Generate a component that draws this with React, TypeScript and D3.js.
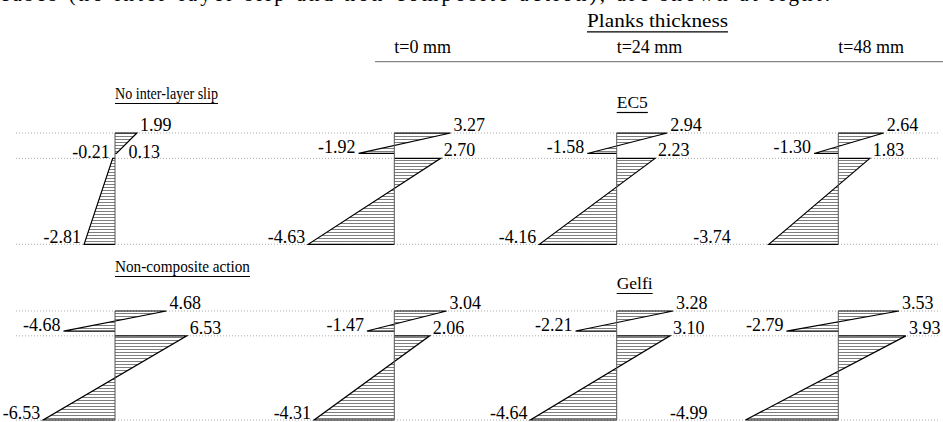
import * as d3 from 'd3';
import React, { useLayoutEffect, useRef, useState } from 'react';

// stress values at: slab top, slab bottom, beam top, beam bottom
const thicknessLabels = ['t=0 mm', 't=24 mm', 't=48 mm'];
const methodLabels = ['EC5', 'Gelfi'];
const refLabels = ['No inter-layer slip', 'Non-composite action'];

const noSlip = [1.99, 0.13, -0.21, -2.81];
const nonComposite = [4.68, -4.68, 6.53, -6.53];

const ec5T0 = [3.27, -1.92, 2.70, -4.63];
const ec5T24 = [2.94, -1.58, 2.23, -4.16];
const ec5T48 = [2.64, -1.30, 1.83, -3.74];

const gelfiT0 = [3.04, -1.47, 2.06, -4.31];
const gelfiT24 = [3.28, -2.21, 3.10, -4.64];
const gelfiT48 = [3.53, -2.79, 3.93, -4.99];

const W = 943, H = 422;
const font = '"Liberation Serif", "DejaVu Serif", serif';
const fmt = (v: number) => v.toFixed(2);

// section depth (drawing units): slab 0-50, beam 62-272
const depths = [0, 50, 62, 272];
const rowTops = [133, 311];
const rowHeights = [111.3, 109];
const colX = [115, 394.3, 616.7, 838.3];

const refScale = d3.scaleLinear().domain([-7, 7]).range([-77, 77]);
const plankScale = d3.scaleLinear().domain([-5, 0, 5]).range([-93, 0, 86]);

const line = d3.line<[number, number]>();

const Diagram = ({ vals, x0, y, sx, shiftBottom }: any) => {
  const x = (v: number) => x0 + sx(v);
  const layers = [[0, 1], [2, 3]];
  return (
    <g>
      {layers.map(([a, b], i) => {
        const pts: [number, number][] = [
          [x0, y(depths[a])],
          [x(vals[a]), y(depths[a])],
          [x(vals[b]), y(depths[b])],
          [x0, y(depths[b])],
        ];
        return (
          <g key={i}>
            <path d={line(pts) + 'Z'} fill="url(#hatch)" stroke="none" />
            <path d={line(pts) ?? ''} fill="none" stroke="#000" strokeWidth={1.2} />
          </g>
        );
      })}
      <line x1={x0} x2={x0} y1={y(0)} y2={y(272)} stroke="#555" strokeWidth={1} />
      {vals.map((v: number, i: number) => {
        const px = x(v);
        const py = y(depths[i]);
        const pos = v >= 0;
        let dx = pos ? 3 : -3;
        let dy = pos ? -2 : 0;
        if (i === 3) dy = -1.5;
        if (i === 3 && shiftBottom) dx -= 35;
        if (i === 1 && pos) { dx = 12; dy = 4.5; }
        return (
          <text key={i} x={px + dx} y={py + dy}
            textAnchor={pos ? 'start' : 'end'} fontSize={18} fontFamily={font}>
            {fmt(v)}
          </text>
        );
      })}
    </g>
  );
};

const Underlined = ({ x, y, text, size = 17, width }: any) => {
  const ref = useRef<SVGTextElement>(null);
  const [w, setW] = useState(0);
  useLayoutEffect(() => {
    if (ref.current) setW(ref.current.getComputedTextLength());
  }, [text, size]);
  return (
    <g>
      <text ref={ref} x={x} y={y} fontSize={size} fontFamily={font}
        textLength={width} lengthAdjust="spacingAndGlyphs">{text}</text>
      <line x1={x} x2={x + (width ?? w)} y1={y + 4.5} y2={y + 4.5} stroke="#000" strokeWidth={1.2} />
    </g>
  );
};

export default function App() {
  const rows = [
    { ref: noSlip, planks: [ec5T0, ec5T24, ec5T48] },
    { ref: nonComposite, planks: [gelfiT0, gelfiT24, gelfiT48] },
  ];
  const titleY = [99, 272];
  const titleW = [103, 135];
  const methodY = [108, 289];
  return (
    <svg width={W} height={H} style={{ position: 'fixed', left: 0, top: 0, background: '#fff' }}>
      <defs>
        <pattern id="hatch" patternUnits="userSpaceOnUse" width={10} height={3}>
          <line x1={0} x2={10} y1={1.5} y2={1.5} stroke="#6f6f6f" strokeWidth={0.9} />
        </pattern>
      </defs>
      <rect width={W} height={H} fill="#fff" />
      <text x={0} y={1} fontSize={21} fontFamily={font} textLength={830}>
        cases (no inter-layer slip and non-composite action), are shown at right.
      </text>

      <Underlined x={587} y={27.3} text="Planks thickness" size={19} width={141} />
      {thicknessLabels.map((t, i) => (
        <text key={t} x={colX[i + 1]} y={53.3} fontSize={18} fontFamily={font}>{t}</text>
      ))}
      <line x1={375} x2={W} y1={61.7} y2={61.7} stroke="#888" strokeWidth={1.3} />

      {rows.map((r, ri) => {
        const y = d3.scaleLinear().domain([0, 272]).range([rowTops[ri], rowTops[ri] + rowHeights[ri]]);
        return (
          <g key={ri}>
            {[0, 62, 272].map((d) => (
              <line key={d} x1={16} x2={940} y1={y(d)} y2={y(d)}
                stroke="#aaa" strokeWidth={1} strokeDasharray="1,2" />
            ))}
            <Underlined x={colX[0]} y={titleY[ri]} text={refLabels[ri]} size={17} width={titleW[ri]} />
            <Underlined x={colX[2]} y={methodY[ri]} text={methodLabels[ri]} size={17.5} />
            <Diagram vals={r.ref} x0={colX[0]} y={y} sx={refScale} />
            {r.planks.map((p, ci) => (
              <Diagram key={ci} vals={p} x0={colX[ci + 1]} y={y}
                sx={plankScale} shiftBottom={ci === 2} />
            ))}
          </g>
        );
      })}
    </svg>
  );
}
